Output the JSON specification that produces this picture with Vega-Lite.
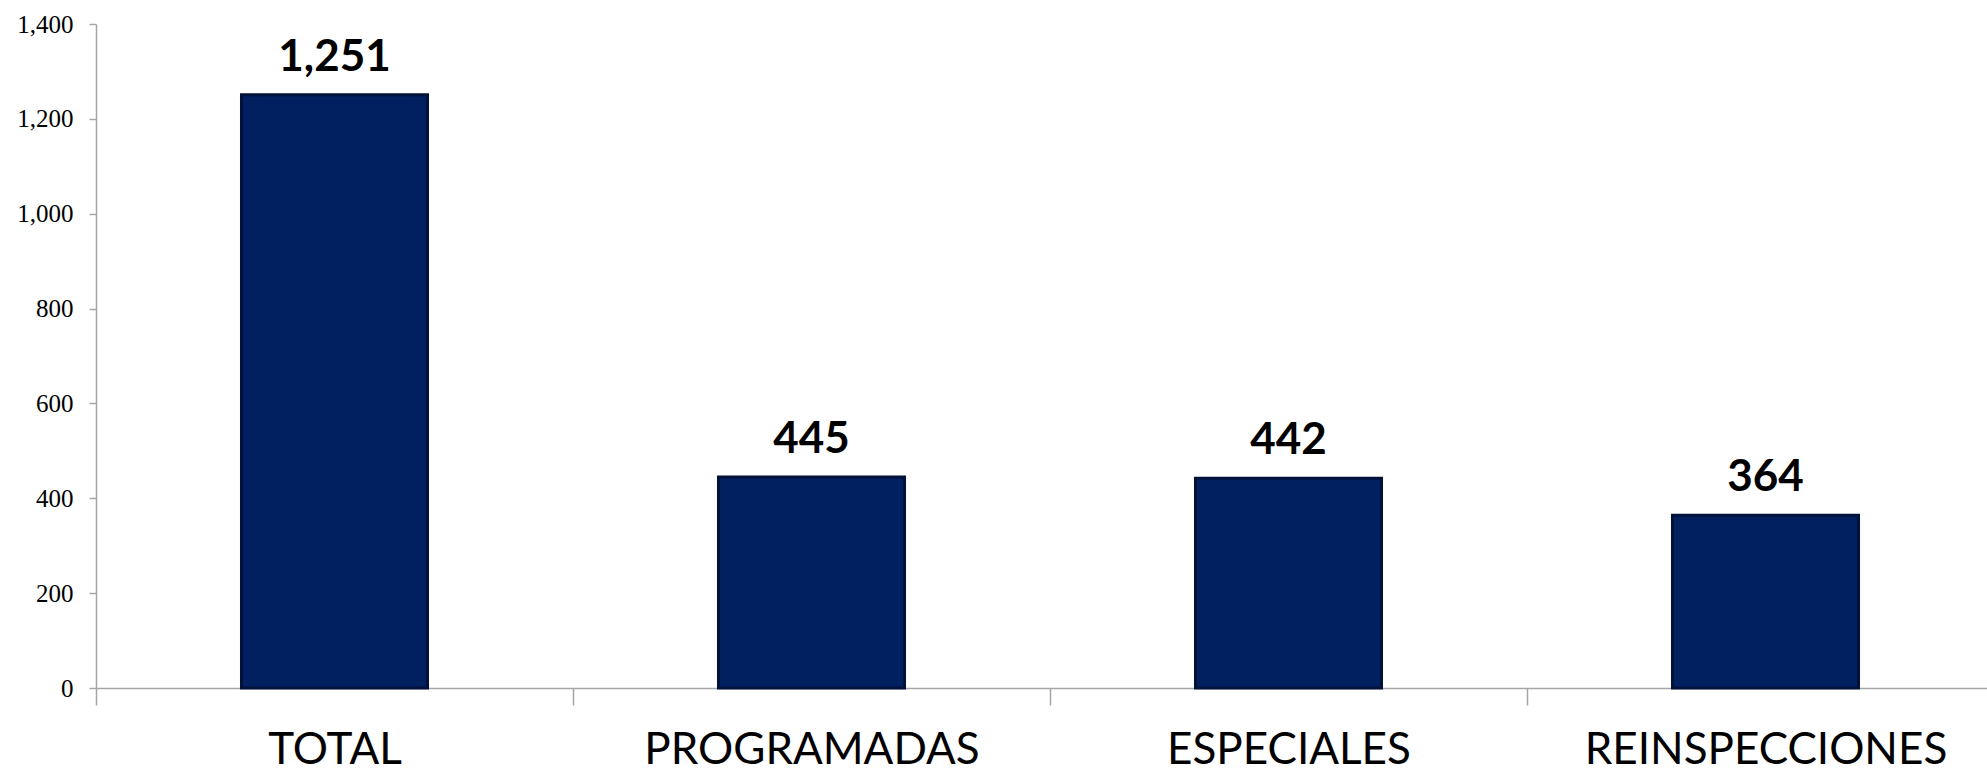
{
  "$schema": "https://vega.github.io/schema/vega-lite/v6.json",
  "autosize": "none",
  "padding": {"left": 96, "top": 24, "right": 0, "bottom": 88},
  "width": 1908,
  "height": 664,
  "background": "white",
  "config": {"view": {"stroke": null}},
  "data": {"values": [
    {"categoria": "TOTAL", "valor": 1251},
    {"categoria": "PROGRAMADAS", "valor": 445},
    {"categoria": "ESPECIALES", "valor": 442},
    {"categoria": "REINSPECCIONES", "valor": 364}
  ]},
  "encoding": {
    "x": {"field": "categoria", "type": "nominal", "sort": null,
      "scale": {"paddingInner": 0, "paddingOuter": 0},
      "axis": {"title": null, "labelAngle": 0, "labelFont": "Lato", "labelFontSize": 44, "labelColor": "#000000", "labelLimit": 0,
        "labelPadding": 23, "tickBand": "extent", "tickSize": 17, "tickColor": "#a6a6a6", "domainColor": "#a6a6a6", "domainWidth": 1.5, "tickWidth": 1.5}},
    "y": {"field": "valor", "type": "quantitative",
      "scale": {"domain": [0, 1400], "nice": false},
      "axis": {"title": null, "values": [0, 200, 400, 600, 800, 1000, 1200, 1400], "format": ",.0f", "grid": false,
        "labelFont": "Liberation Serif", "labelFontSize": 25, "labelColor": "#000000", "labelPadding": 16,
        "tickSize": 7, "tickColor": "#a6a6a6", "domainColor": "#a6a6a6", "domainWidth": 1.5, "tickWidth": 1.5}}
  },
  "layer": [
    {"mark": {"type": "bar", "color": "#002060", "stroke": "#00113a", "strokeWidth": 3, "width": {"band": 0.39}}},
    {"mark": {"type": "text", "font": "Lato", "fontWeight": "bold", "fontSize": 44, "baseline": "alphabetic", "dy": -24, "color": "#000000"},
      "encoding": {"text": {"field": "valor", "type": "quantitative", "format": ","}}}
  ]
}
